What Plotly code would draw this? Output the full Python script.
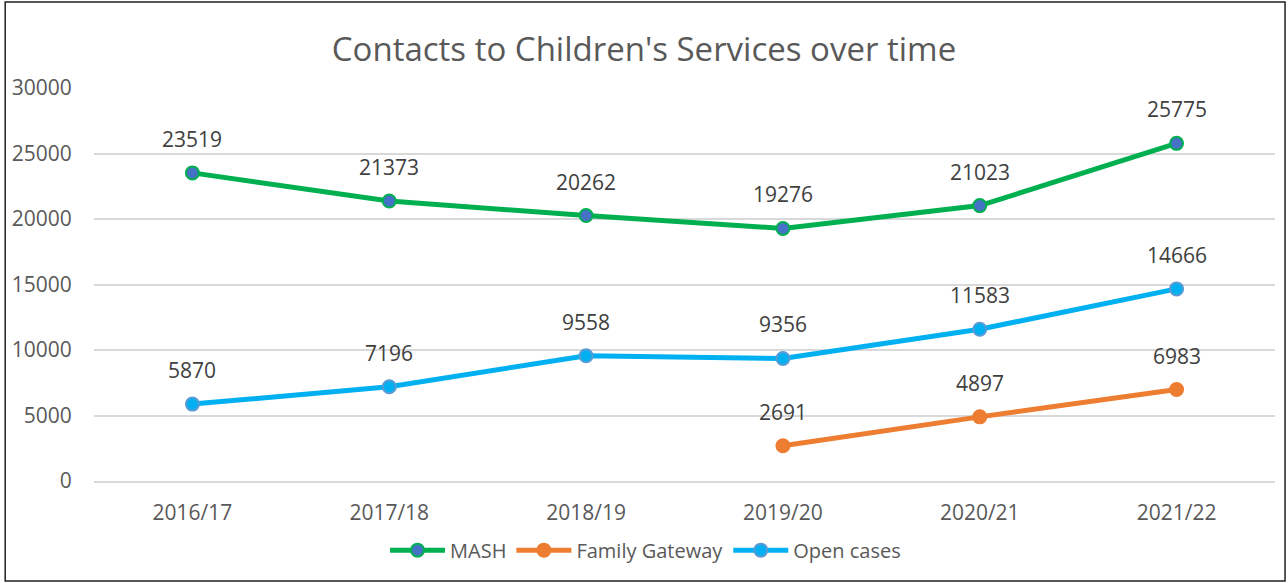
import plotly.graph_objects as go

# Data
years = ["2016/17", "2017/18", "2018/19", "2019/20", "2020/21", "2021/22"]
mash = [23519, 21373, 20262, 19276, 21023, 25775]
family_gateway = [None, None, None, 2691, 4897, 6983]
open_cases = [5870, 7196, 9558, 9356, 11583, 14666]

series = [
    ("MASH", mash, "#00B050", "#4472C4", "#00B050"),
    ("Family Gateway", family_gateway, "#ED7D31", "#ED7D31", "#ED7D31"),
    ("Open cases", open_cases, "#00B0F0", "#00B0F0", "#5B9BD5"),
]

fig = go.Figure()
annotations = []
for name, vals, line_col, fill_col, edge_col in series:
    fig.add_trace(go.Scatter(
        x=years, y=vals, name=name, mode="lines+markers",
        line=dict(color=line_col, width=5),
        marker=dict(size=13, color=fill_col, line=dict(color=edge_col, width=2)),
        connectgaps=False,
    ))
    for x, v in zip(years, vals):
        if v is None:
            continue
        annotations.append(dict(
            x=x, y=v, text=str(v), showarrow=False, yshift=34,
            font=dict(size=21, color="#404040"),
        ))

fig.update_layout(
    width=1288, height=583,
    margin=dict(l=92, r=13, t=88, b=102),
    paper_bgcolor="white", plot_bgcolor="white",
    font=dict(family="Open Sans, sans-serif", color="#595959"),
    title=dict(text="Contacts to Children's Services over time",
               x=0.5, xanchor="center", y=0.915, yanchor="middle",
               font=dict(size=33, color="#595959")),
    annotations=annotations,
    legend=dict(orientation="h", x=0.467, xanchor="center", y=-0.176, yanchor="middle",
                font=dict(size=20, color="#595959"), itemwidth=55),
    showlegend=True,
    shapes=[dict(type="rect", xref="paper", yref="paper",
                 x0=-0.0752, x1=1.0085, y0=-0.2545, y1=1.2188,
                 line=dict(color="#202020", width=1.5), fillcolor="rgba(0,0,0,0)")],
)
fig.update_xaxes(
    type="category", range=[-0.5, 5.5], showgrid=False,
    showline=True, linecolor="#D9D9D9", linewidth=1.5,
    ticks="outside", ticklen=12, tickcolor="rgba(0,0,0,0)",
    tickfont=dict(size=21, color="#595959"),
)
fig.update_yaxes(
    range=[0, 30000], dtick=5000, tickformat="d", showgrid=True,
    gridcolor="#D9D9D9", gridwidth=1.5,
    zeroline=False, ticks="outside", ticklen=17, tickcolor="rgba(0,0,0,0)",
    tickfont=dict(size=21, color="#595959"),
)

fig.write_html("out.html", config={"displayModeBar": False},
               post_script="document.body.style.margin='0';")
